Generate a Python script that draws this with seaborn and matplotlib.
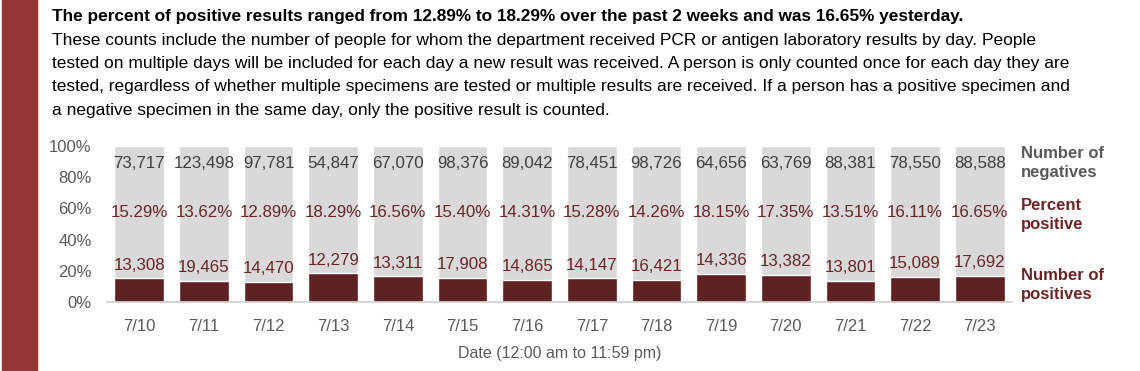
import matplotlib
matplotlib.use("Agg")
import matplotlib.pyplot as plt
import seaborn as sns
import pandas as pd
from matplotlib.patches import Rectangle

dates = ["7/10", "7/11", "7/12", "7/13", "7/14", "7/15", "7/16",
         "7/17", "7/18", "7/19", "7/20", "7/21", "7/22", "7/23"]
negatives = [73717, 123498, 97781, 54847, 67070, 98376, 89042,
             78451, 98726, 64656, 63769, 88381, 78550, 88588]
percent_positive = [15.29, 13.62, 12.89, 18.29, 16.56, 15.40, 14.31,
                    15.28, 14.26, 18.15, 17.35, 13.51, 16.11, 16.65]
positives = [13308, 19465, 14470, 12279, 13311, 17908, 14865,
             14147, 16421, 14336, 13382, 13801, 15089, 17692]
y_ticks = [0, 20, 40, 60, 80, 100]

title = ("The percent of positive results ranged from 12.89% to 18.29% over "
         "the past 2 weeks and was 16.65% yesterday.")
para = [
    "These counts include the number of people for whom the department received PCR or antigen laboratory results by day. People",
    "tested on multiple days will be included for each day a new result was received. A person is only counted once for each day they are",
    "tested, regardless of whether multiple specimens are tested or multiple results are received. If a person has a positive specimen and",
    "a negative specimen in the same day, only the positive result is counted.",
]

sns.set_theme(style="white")
plt.rcParams["font.family"] = ["Liberation Sans", "DejaVu Sans"]

GRAY = "#D9D9D9"
MAROON = "#5E2222"
TXT_MAROON = "#6B2525"
TXT_GRAY = "#404040"
AX_GRAY = "#595959"

W, H = 1140, 371
fig = plt.figure(figsize=(W / 100, H / 100), dpi=100)
fig.patch.set_facecolor("white")

def fx(px):
    return px / W

def fy(py):
    return 1 - py / H

# left band
fig.patches.append(Rectangle((fx(2), 0), fx(35), 1, transform=fig.transFigure,
                             color="#943634", zorder=0))

ax = fig.add_axes([fx(107), fy(302), fx(1012) - fx(107), fy(146) - fy(302)])

df = pd.DataFrame({"date": dates, "neg": negatives, "pct": percent_positive,
                   "pos": positives, "full": [100] * len(dates)})

sns.barplot(data=df, x="date", y="full", color=GRAY, width=0.77, ax=ax,
            saturation=1, order=dates)
sns.barplot(data=df, x="date", y="pct", color=MAROON, width=0.77, ax=ax,
            saturation=1, order=dates)

ax.set_xlim(-0.5, len(dates) - 0.5)
ax.set_ylim(0, 100)
ax.set_yticks(y_ticks)
ax.set_yticklabels([f"{t}%" for t in y_ticks], color=AX_GRAY, fontsize=12)
ax.tick_params(axis="y", length=0, pad=11)
ax.set_xticks(range(len(dates)))
ax.set_xticklabels(dates, color=AX_GRAY, fontsize=12)
ax.set_xticks([i - 0.5 for i in range(len(dates) + 1)], minor=True)
ax.tick_params(axis="x", which="major", length=0, pad=12)
ax.tick_params(axis="x", which="minor", length=5, color="#BFBFBF", width=1, direction="out")
for s in ["top", "right", "left"]:
    ax.spines[s].set_visible(False)
ax.spines["bottom"].set_color("#D0D0D0")
ax.set_ylabel("")
ax.set_xlabel("Date (12:00 am to 11:59 pm)", color=AX_GRAY, fontsize=11.5, labelpad=9)

for i in range(len(dates)):
    ax.text(i, 89, f"{negatives[i]:,}", ha="center", va="center",
            color=TXT_GRAY, fontsize=12.2)
    ax.text(i, 57.5, f"{percent_positive[i]:.2f}%", ha="center", va="center",
            color=TXT_MAROON, fontsize=12.2)
    ax.annotate(f"{positives[i]:,}", (i, percent_positive[i]), xytext=(0, 4),
                textcoords="offset points", ha="center", va="bottom",
                color=TXT_MAROON, fontsize=12.2)

# right-side legend labels
fig.text(fx(1021), fy(163), "Number of\nnegatives", ha="left", va="center",
         color=AX_GRAY, fontsize=12, fontweight="bold", linespacing=1.25)
fig.text(fx(1021), fy(215), "Percent\npositive", ha="left", va="center",
         color=TXT_MAROON, fontsize=12, fontweight="bold", linespacing=1.25)
fig.text(fx(1021), fy(285), "Number of\npositives", ha="left", va="center",
         color=TXT_MAROON, fontsize=12, fontweight="bold", linespacing=1.25)

# header text
fig.text(fx(52), fy(17), title, ha="left", va="center", color="black",
         fontsize=12.4, fontweight="bold")
for k, line in enumerate(para):
    fig.text(fx(52), fy(40 + k * 23.5), line, ha="left", va="center",
             color="black", fontsize=12.5)

fig.savefig("out.png", dpi=100, facecolor="white")
